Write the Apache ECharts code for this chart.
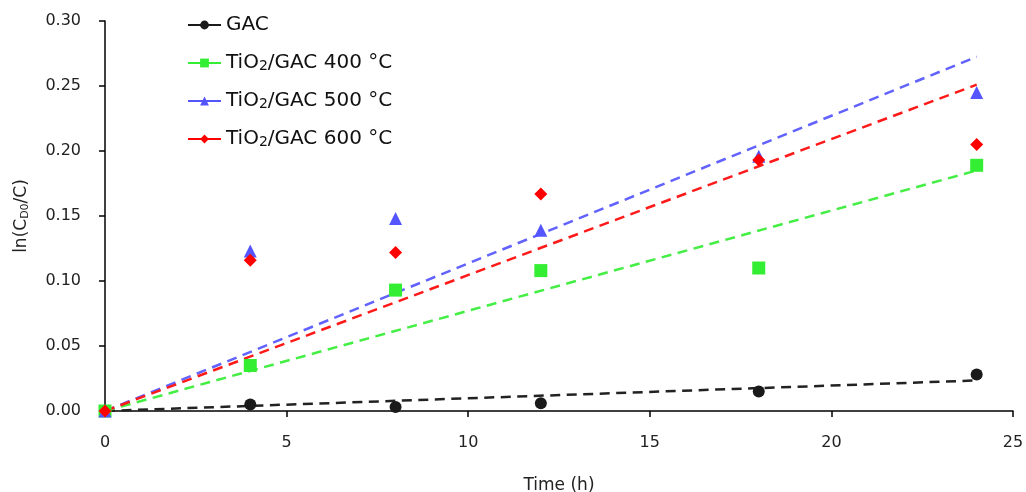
<!DOCTYPE html>
<html>
<head>
<meta charset="utf-8">
<script src="https://cdn.jsdelivr.net/npm/echarts@6/dist/echarts.min.js"></script>
<style>
  html, body { margin: 0; padding: 0; background: #fff; }
  #chart { width: 1026px; height: 492px; }
</style>
</head>
<body>
<div id="chart"></div>
<script>
// measured points, time in hours
const times = [0, 4, 8, 12, 18, 24]
const gac = [0, 0.005, 0.003, 0.006, 0.015, 0.028]
const tio400 = [0, 0.035, 0.093, 0.108, 0.110, 0.189]
const tio500 = [0, 0.123, 0.148, 0.139, 0.196, 0.245]
const tio600 = [0, 0.116, 0.122, 0.167, 0.193, 0.205]

// linear fit end points (through origin), value at t = 24 h
const fitTimes = [0, 24]
const gacFit = [0, 0.0235]
const tio400Fit = [0, 0.185]
const tio500Fit = [0, 0.2725]
const tio600Fit = [0, 0.251]

const yTicks = ['0.00', '0.05', '0.10', '0.15', '0.20', '0.25', '0.30']
const names = ['GAC', 'TiO{s|2}/GAC 400 °C', 'TiO{s|2}/GAC 500 °C', 'TiO{s|2}/GAC 600 °C']

const pair = (xs, ys) => xs.map((x, i) => [x, ys[i]])

const font = 'DejaVu Sans, Verdana, sans-serif'

const pointSeries = (name, data, symbol, size, color) => ({
  name: name,
  type: 'line',
  data: pair(times, data),
  symbol: symbol,
  symbolSize: size,
  showSymbol: true,
  showAllSymbol: true,
  lineStyle: { opacity: 0, width: 2, color: color },
  itemStyle: { color: color },
  z: 5,
  animation: false
})

const fitSeries = (data, color, width) => ({
  type: 'line',
  data: pair(fitTimes, data),
  showSymbol: false,
  symbol: 'none',
  lineStyle: { type: [10, 6.5], width: width, color: color },
  silent: true,
  z: 2,
  animation: false
})

const chart = echarts.init(document.getElementById('chart'))

chart.setOption({
  backgroundColor: '#fff',
  grid: { left: 105, right: 13, top: 21, bottom: 81, outerBoundsMode: 'none' },
  legend: {
    orient: 'vertical',
    left: 182,
    top: 10,
    itemWidth: 33,
    itemHeight: 11,
    itemGap: 12,
    data: names,
    lineStyle: { opacity: 1, width: 2 },
    textStyle: {
      fontFamily: font,
      fontSize: 20,
      color: '#111',
      lineHeight: 20,
      rich: {
        s: { fontFamily: font, fontSize: 14, color: '#111', verticalAlign: 'bottom', lineHeight: 20, padding: [12, 0, 0, 0] }
      }
    }
  },
  xAxis: {
    type: 'value',
    min: 0,
    max: 25,
    interval: 5,
    name: 'Time (h)',
    nameLocation: 'middle',
    nameGap: 66,
    nameTextStyle: { fontFamily: font, fontSize: 17, color: '#222' },
    axisLine: { show: true, onZero: false, lineStyle: { color: '#000', width: 1.5 } },
    axisTick: { show: true, length: 6, lineStyle: { color: '#000', width: 1.5 } },
    axisLabel: { fontFamily: font, fontSize: 16, color: '#222', margin: 24 },
    splitLine: { show: false }
  },
  yAxis: {
    type: 'value',
    min: 0,
    max: 0.3,
    interval: 0.05,
    name: '{a|ln(C}{s|D0}{a|/C)}',
    nameLocation: 'middle',
    nameGap: 74,
    nameTextStyle: {
      rich: {
        a: { fontFamily: font, fontSize: 17, color: '#222', lineHeight: 18 },
        s: { fontFamily: font, fontSize: 11, color: '#222', verticalAlign: 'bottom', lineHeight: 18, padding: [8, 0, 0, 0] }
      }
    },
    axisLine: { show: true, lineStyle: { color: '#000', width: 1.5 } },
    axisTick: { show: true, length: 6, lineStyle: { color: '#000', width: 1.5 } },
    axisLabel: {
      fontFamily: font,
      fontSize: 16,
      color: '#222',
      margin: 24,
      formatter: (v) => yTicks[Math.round(v / 0.05)]
    },
    splitLine: { show: false }
  },
  series: [
    fitSeries(gacFit, '#222', 2.5),
    fitSeries(tio400Fit, '#44ee44', 2.5),
    fitSeries(tio500Fit, '#6262ff', 2.5),
    fitSeries(tio600Fit, '#ff1a1a', 2.5),
    pointSeries(names[0], gac, 'circle', 12, '#1a1a1a'),
    pointSeries(names[1], tio400, 'rect', 13, '#33ee33'),
    pointSeries(names[2], tio500, 'triangle', 13, '#5555ff'),
    pointSeries(names[3], tio600, 'diamond', 13, '#ff0000')
  ]
})
</script>
</body>
</html>
